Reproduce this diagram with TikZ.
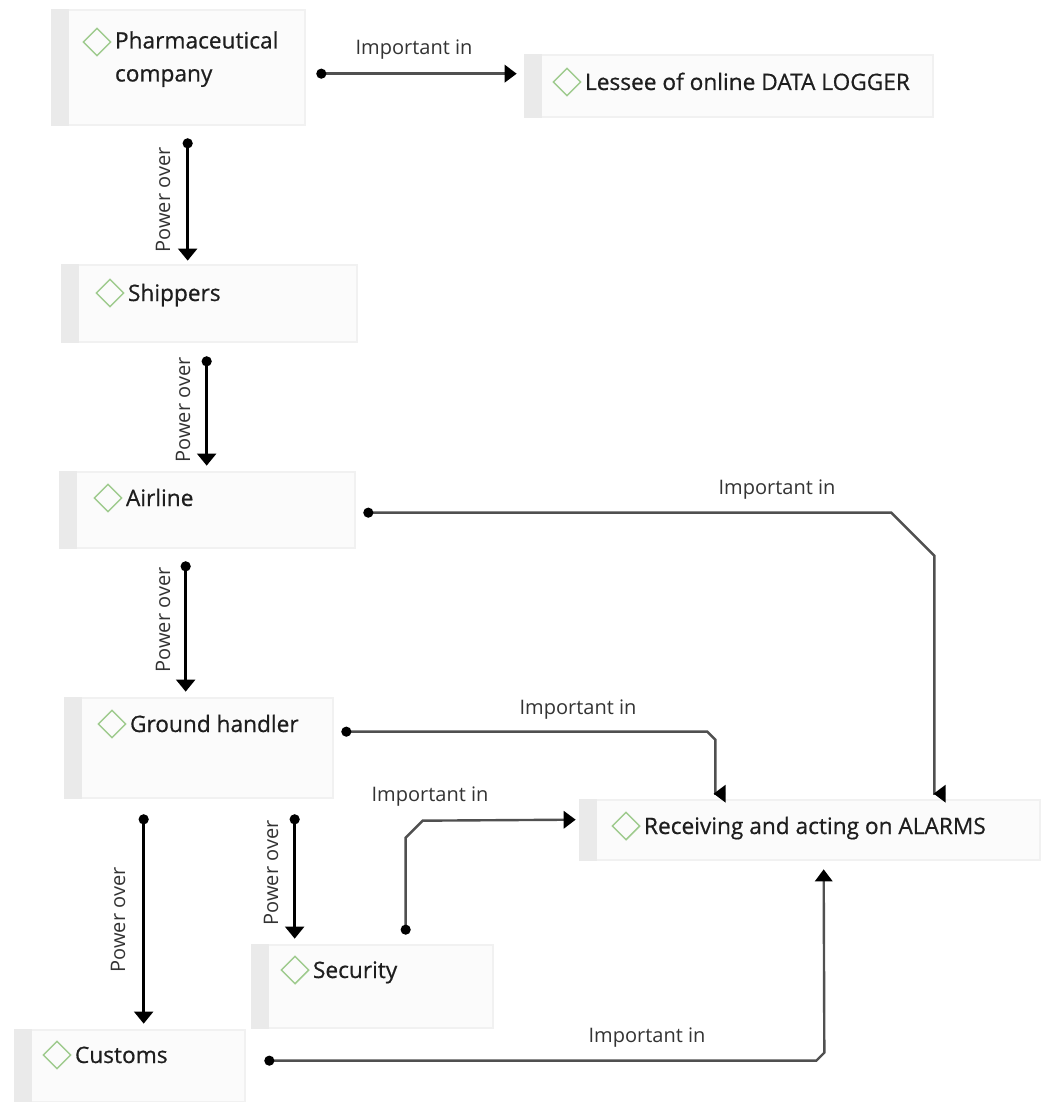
\documentclass[tikz,border=0pt]{standalone}
\usepackage{fontspec}
\setmainfont{Open Sans}
\newfontfamily\rolefont{Open Sans}[FakeBold=0.6]
\usetikzlibrary{arrows.meta,shapes.geometric,fit,calc}
\definecolor{boxfill}{HTML}{FBFBFB}
\definecolor{boxedge}{HTML}{F1F1F1}
\definecolor{stripgray}{HTML}{EAEAEA}
\definecolor{tagGreen}{HTML}{9FCB8E}
\definecolor{linkgray}{HTML}{505050}
\definecolor{inkdark}{HTML}{1E1E1E}
\begin{document}
\begin{tikzpicture}[x=0.75pt,y=-0.75pt,
  box/.style={fill=boxfill, draw=boxedge, line width=2pt, inner sep=0pt},
  leftstrip/.style={fill=stripgray},
  tagmark/.style={diamond, draw=tagGreen, line width=1.1pt, minimum width=21pt,
              minimum height=21pt, inner sep=0pt},
  roletext/.style={inner sep=0pt, text=inkdark, font=\rolefont\fontsize{17}{24.75}\selectfont},
  lbl/.style={inner sep=0pt, text=black!80, font=\fontsize{15}{17}\selectfont},
  power/.style={line width=2.4pt, draw=black,
                {Circle[length=7.5pt]}-{Triangle[width=14pt,length=9pt]}},
  imp/.style={line width=1.8pt, draw=linkgray,
              {Circle[length=7.5pt,color=black]}-{Triangle[width=13pt,length=9pt,color=black]}}
]
\useasboundingbox[fill=white] (0,0) rectangle (1044,1102);

% ---- boxes ----
\node[box, fit={(52,10) (305,125)}]    (pharma)    {};
\node[box, fit={(525,55) (933,117)}]   (lessee)    {};
\node[box, fit={(62,265) (357,342)}]   (shippers)  {};
\node[box, fit={(60,472) (355,548)}]   (airline)   {};
\node[box, fit={(65,698) (333,798)}]   (ground)    {};
\node[box, fit={(580,800) (1040,860)}] (receiving) {};
\node[box, fit={(252,945) (493,1028)}] (security)  {};
\node[box, fit={(15,1030) (245,1102)}] (customs)   {};

\foreach \b in {pharma,lessee,shippers,airline,ground,receiving,security,customs}
  \fill[leftstrip] (\b.north west) rectangle ($(\b.south west)+(18,0)$);

% ---- tags and names ----
\node[tagmark] (pharma-t) at (97,42) {};
\node[roletext, anchor=north west, align=left] (pharma-n) at ($(pharma-t.east)+(3,-11)$)
  {Pharmaceutical\\company};
\node[tagmark] (lessee-t) at (567,82) {};
\node[roletext, anchor=base west] (lessee-n) at ($(lessee-t.east)+(3,8)$) {Lessee of online DATA LOGGER};
\node[tagmark] (shippers-t) at (110,293) {};
\node[roletext, anchor=base west] (shippers-n) at ($(shippers-t.east)+(3,8)$) {Shippers};
\node[tagmark] (airline-t) at (108,498) {};
\node[roletext, anchor=base west] (airline-n) at ($(airline-t.east)+(3,8)$) {Airline};
\node[tagmark] (ground-t) at (112,724) {};
\node[roletext, anchor=base west] (ground-n) at ($(ground-t.east)+(3,8)$) {Ground handler};
\node[tagmark] (receiving-t) at (626,826) {};
\node[roletext, anchor=base west] (receiving-n) at ($(receiving-t.east)+(3,8)$) {Receiving and acting on ALARMS};
\node[tagmark] (security-t) at (295,970) {};
\node[roletext, anchor=base west] (security-n) at ($(security-t.east)+(3,8)$) {Security};
\node[tagmark] (customs-t) at (57,1055) {};
\node[roletext, anchor=base west] (customs-n) at ($(customs-t.east)+(3,8)$) {Customs};

% ---- "Power over" connectors ----
\draw[power] ($(pharma.south west)+(137,12)$) -- ($(shippers.north west)+(127,-3)$);
\draw[power] ($(shippers.south west)+(146,13)$) -- ($(airline.north west)+(148,-5)$);
\draw[power] ($(airline.south west)+(127,12)$) -- ($(ground.north west)+(122,-5)$);
\draw[power] ($(ground.south west)+(80,15)$) -- ($(customs.north west)+(130,-5)$);
\draw[power] ($(ground.south west)+(231,15)$) -- ($(security.north west)+(44,-5)$);

\node[lbl, rotate=90] (po1) at (163,200) {Power over};
\node[lbl, rotate=90] (po2) at (183,410) {Power over};
\node[lbl, rotate=90] (po3) at (163,620) {Power over};
\node[lbl, rotate=90] (po4) at (118,920) {Power over};
\node[lbl, rotate=90] (po5) at (271,873) {Power over};

% ---- "Important in" connectors ----
\draw[imp] ($(pharma.north east)+(10,65)$) -- ($(lessee.north west)+(-7,20)$);
\node[lbl] (ii1) at (414,50) {Important in};

\draw[imp] ($(airline.north east)+(7,42)$) -- ++(528,0) -- ++(43,43)
  |- ($(receiving.north west)+(355,-5)$);
\node[lbl] (ii2) at (777,490) {Important in};

\draw[imp] ($(ground.north east)+(7,35)$) -- ++(366,0) -- ++(8,8)
  |- ($(receiving.north west)+(135,-5)$);
\node[lbl] (ii3) at (578,710) {Important in};

\draw[imp] ($(security.north west)+(155,-9)$) -- ++(0,-97) -- ++(17,-17)
  -- ($(receiving.north west)+(-3,21)$);
\node[lbl] (ii4) at (430,797) {Important in};

\draw[imp] ($(customs.north east)+(18,32)$) -- ++(552,0) -- ++(8,-8)
  -- ($(receiving.south west)+(245,8)$);
\node[lbl] (ii5) at (647,1038) {Important in};
\end{tikzpicture}
\end{document}
